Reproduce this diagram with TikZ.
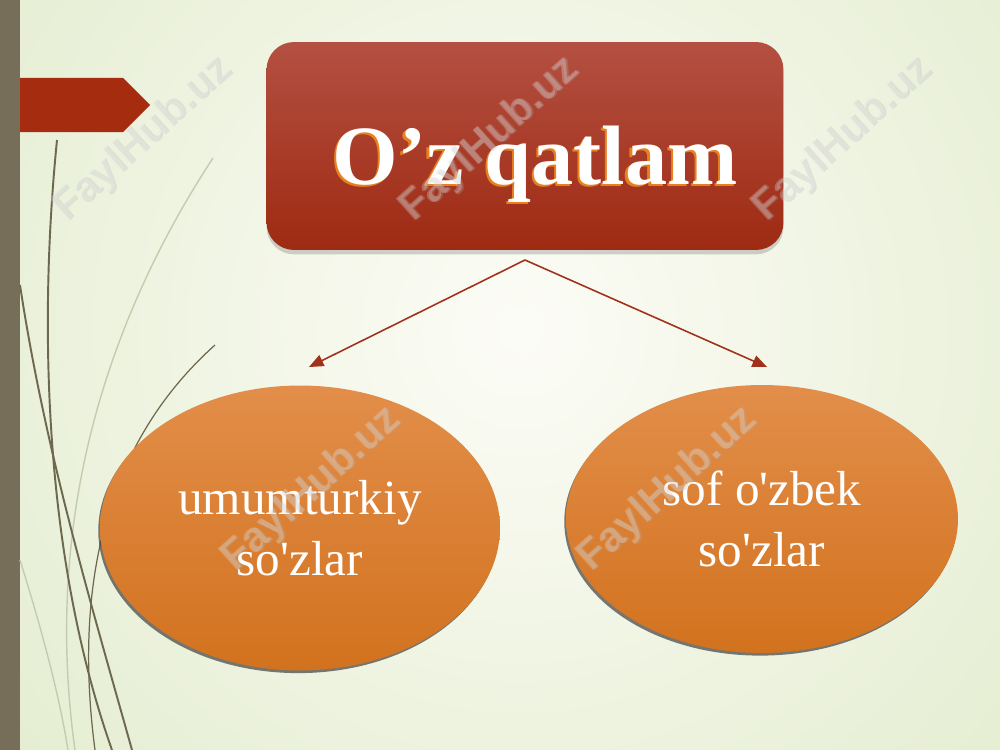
\documentclass[tikz,border=0pt]{standalone}
\usepackage{fontspec}
\setmainfont{Liberation Serif}
\newfontfamily\wmfont{Liberation Sans}
\usetikzlibrary{arrows, shapes.geometric, shadows}

\definecolor{bglight}{RGB}{252,252,246}
\definecolor{bgedge}{RGB}{220,232,196}
\definecolor{barolive}{RGB}{118,110,88}
\definecolor{tabred}{RGB}{166,44,16}
\definecolor{boxtop}{RGB}{180,80,66}
\definecolor{boxbottom}{RGB}{158,42,18}
\definecolor{ovaltop}{RGB}{226,142,74}
\definecolor{ovalbottom}{RGB}{210,114,30}
\definecolor{linkred}{RGB}{160,50,28}
\definecolor{titleglow}{RGB}{232,128,30}
\definecolor{stemdark}{RGB}{110,104,78}
\definecolor{stemlight}{RGB}{196,204,176}

\newcommand{\titleshade}[1]{\rlap{\kern-1.3pt\raisebox{-1.3pt}{\color{titleglow}#1}}#1}
\newcommand{\wmtext}[1]{\rlap{\kern0.7pt\raisebox{-0.7pt}{\color{black!30}#1}}{\color{white!92!black}#1}}

\begin{document}
\begin{tikzpicture}[x=0.02cm, y=-0.02cm, >=triangle 45,
    titlebox/.style={rounded corners=0.55cm, minimum width=10.34cm, minimum height=4.16cm,
      top color=boxtop, bottom color=boxbottom,
      drop shadow={shadow xshift=0pt, shadow yshift=-2.5pt, opacity=0.35}},
    titletext/.style={text=white, font=\fontsize{48}{56}\selectfont\bfseries},
    oval/.style={ellipse, minimum width=8cm, minimum height=5.7cm, inner sep=0pt,
      top color=ovaltop, bottom color=ovalbottom, text=white, align=center,
      font=\fontsize{28}{35}\selectfont,
      drop shadow={shadow xshift=-1pt, shadow yshift=-1.5pt, fill=black!75, opacity=0.7}},
    link/.style={->, draw=linkred, fill=linkred, line width=0.9pt},
    stem/.style={draw=stemdark, line width=1.1pt},
    stemthin/.style={draw=stemlight, line width=0.8pt},
    wmark/.style={rotate=42, opacity=0.28, font=\wmfont\fontsize{24}{24}\selectfont\bfseries}]

  \useasboundingbox (0,0) rectangle (1000,750);
  \begin{scope}
    \clip (0,0) rectangle (1000,750);
    \fill[inner color=bglight, outer color=bgedge] (520,330) circle (900);
  \end{scope}

  % left border
  \fill[barolive] (0,0) rectangle (20,750);
  \fill[tabred] (20,78) -- (123,78) -- (150,105) -- (123,132) -- (20,132) -- cycle;

  \draw[stemthin] (213,158) .. controls (120,300) and (40,500) .. (75,750);
  \draw[stemthin] (20,560) .. controls (45,640) and (60,700) .. (68,750);
  \draw[stem] (57,140) .. controls (38,330) and (45,560) .. (112,750);
  \draw[stem] (20,285) .. controls (45,450) and (90,600) .. (132,750);
  \draw[stem, line width=0.7pt] (215,345) .. controls (120,430) and (70,560) .. (95,750);

  \node[titlebox] (oz) at (525,146) {};
  \node[titletext, anchor=base] (oztext) at (535,184) {\titleshade{O’z qatlam}};

  \node[oval] (umum) at (300,528) {umumturkiy\\so\textquotesingle zlar};
  \node[oval, minimum width=7.84cm, minimum height=5.36cm] (sof) at (762,519) {sof o\textquotesingle zbek\\so\textquotesingle zlar};

  \coordinate (fork) at ([yshift=-5.5pt]oz.south);
  \coordinate (lefttip) at (309,367);
  \coordinate (righttip) at (767,367);

  \path
    (fork) edge[link] (lefttip)
    (fork) edge[link] (righttip);

  % watermark
  \node[wmark] (wm1) at (143,140) {\wmtext{FaylHub.uz}};
  \node[wmark] (wm2) at (490,140) {\wmtext{FaylHub.uz}};
  \node[wmark] (wm3) at (843,140) {\wmtext{FaylHub.uz}};
  \node[wmark] (wm5) at (312,490) {\wmtext{FaylHub.uz}};
  \node[wmark] (wm6) at (668,490) {\wmtext{FaylHub.uz}};

\end{tikzpicture}
\end{document}
